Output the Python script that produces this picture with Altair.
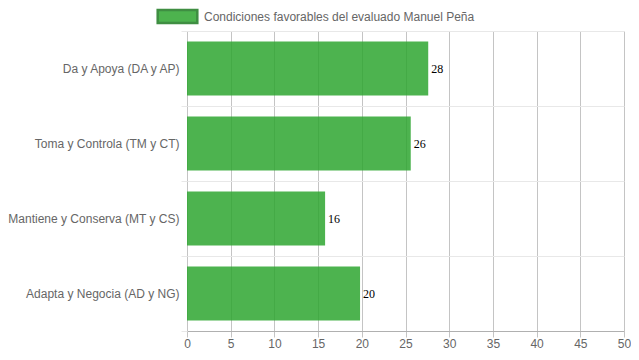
import altair as alt
import pandas as pd

categories = [
    "Da y Apoya (DA y AP)",
    "Toma y Controla (TM y CT)",
    "Mantiene y Conserva (MT y CS)",
    "Adapta y Negocia (AD y NG)",
]
values = [27.6, 25.6, 15.8, 19.8]
series_name = "Condiciones favorables del evaluado Manuel Peña"
x_ticks = [0, 5, 10, 15, 20, 25, 30, 35, 40, 45, 50]

df = pd.DataFrame({
    "categoria": categories,
    "valor": values,
    "serie": [series_name] * len(categories),
})

FONT = "Liberation Sans"
BAR_COLOR = "#2EA630"

y_enc = alt.Y(
    "categoria:N",
    sort=categories,
    title=None,
    scale=alt.Scale(paddingInner=0, paddingOuter=0),
    axis=alt.Axis(
        tickBand="extent",
        grid=True,
        gridColor="#e8e8e8",
        tickColor="#e8e8e8",
        tickSize=6,
        domain=False,
        labelPadding=2,
        labelFont=FONT,
        labelFontSize=12,
        labelColor="#666666",
    ),
)

x_enc = alt.X(
    "valor:Q",
    title=None,
    scale=alt.Scale(domain=[0, 50], nice=False),
    axis=alt.Axis(
        values=x_ticks,
        grid=True,
        gridColor="#c4c4c4",
        tickColor="#c4c4c4",
        tickSize=6,
        domainColor="#b0b0b0",
        labelFlush=False,
        labelPadding=1,
        labelFont=FONT,
        labelFontSize=12,
        labelColor="#666666",
    ),
)

bars = alt.Chart(df).mark_bar(
    height={"band": 0.72},
    opacity=0.85,
).encode(
    x=x_enc,
    y=y_enc,
    color=alt.Color(
        "serie:N",
        scale=alt.Scale(range=[BAR_COLOR]),
        legend=alt.Legend(
            title=None,
            orient="none",
            legendX=-17,
            legendY=-22,
            direction="horizontal",
            symbolType="M-3.3,-1.1H3.3V1.1H-3.3Z",
            symbolSize=144,
            symbolStrokeColor="#1E7B22",
            symbolStrokeWidth=2.5,
            labelOffset=19,
            labelLimit=0,
            labelFont=FONT,
            labelFontSize=12,
            labelColor="#666666",
        ),
    ),
)

labels = alt.Chart(df).mark_text(
    align="left",
    baseline="middle",
    dx=3,
    font="Liberation Serif",
    fontSize=12,
    color="black",
).encode(
    x=alt.X("valor:Q"),
    y=alt.Y("categoria:N", sort=categories),
    text=alt.Text("valor:Q", format=".0f"),
)

chart = (bars + labels).properties(
    width=437,
    height=300,
    autosize="none",
    padding={"left": 179, "top": 23, "right": 7, "bottom": 20},
).configure_view(stroke=None)

chart.save("out.html", embed_options={"renderer": "svg", "actions": False})
